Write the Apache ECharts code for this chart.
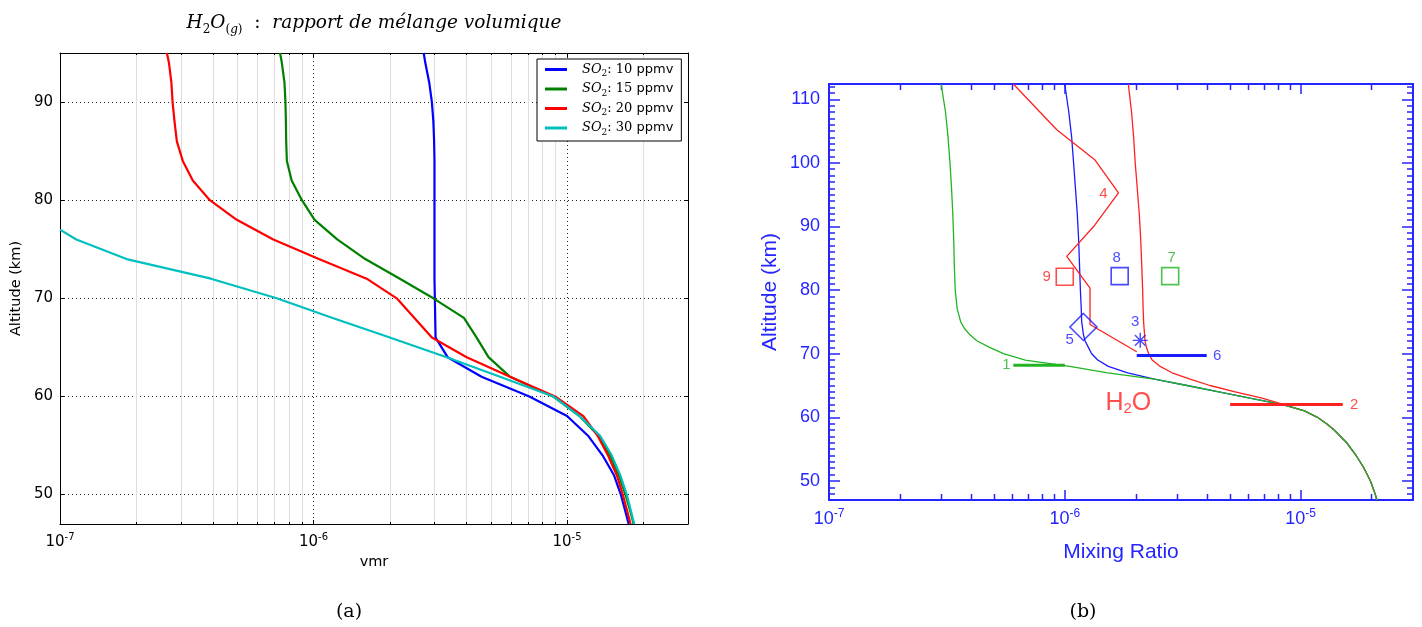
<!DOCTYPE html>
<html><head><meta charset="utf-8">
<script src="https://cdn.jsdelivr.net/npm/echarts@6/dist/echarts.min.js"></script>
<style>html,body{margin:0;padding:0;background:#fff}#c{width:1422px;height:627px}</style>
</head><body><div id="c"></div>
<script>
// ===== Panel (a) data =====
const altA = [95,94,92,90,88,86,84,82,80,78,76,74,72,70,68,66,64,62,60,58,56,54,52,50,48,47];
const vmrSO2_10 = [2.72e-6,2.76e-6,2.86e-6,2.93e-6,2.97e-6,2.99e-6,3.0e-6,3.0e-6,3.0e-6,3.0e-6,3.0e-6,3.0e-6,3.0e-6,3.01e-6,3.02e-6,3.03e-6,3.38e-6,4.6e-6,7.1e-6,1.0e-5,1.21e-5,1.38e-5,1.53e-5,1.63e-5,1.71e-5,1.75e-5];
const vmrSO2_15 = [7.38e-7,7.5e-7,7.68e-7,7.75e-7,7.78e-7,7.8e-7,7.85e-7,8.2e-7,9.0e-7,1.01e-6,1.24e-6,1.6e-6,2.19e-6,2.97e-6,3.92e-6,4.4e-6,4.9e-6,5.96e-6,8.8e-6,1.12e-5,1.33e-5,1.48e-5,1.6e-5,1.7e-5,1.79e-5,1.83e-5];
const vmrSO2_20 = [2.64e-7,2.69e-7,2.75e-7,2.78e-7,2.83e-7,2.89e-7,3.05e-7,3.34e-7,3.9e-7,4.98e-7,6.94e-7,1.05e-6,1.62e-6,2.13e-6,2.5e-6,2.93e-6,4.02e-6,5.96e-6,8.97e-6,1.16e-5,1.32e-5,1.45e-5,1.57e-5,1.66e-5,1.74e-5,1.78e-5];
const altA30 = [77,76,74,72,70,68,66,64,62,60,58,56,54,52,50,48,47];
const vmrSO2_30 = [1.0e-7,1.16e-7,1.83e-7,3.94e-7,7.16e-7,1.19e-6,2.0e-6,3.35e-6,5.44e-6,8.83e-6,1.12e-5,1.35e-5,1.5e-5,1.62e-5,1.72e-5,1.8e-5,1.84e-5];
const namesA = ['SO2: 10 ppmv','SO2: 15 ppmv','SO2: 20 ppmv','SO2: 30 ppmv'];
const minorTickVals = [2e-7,3e-7,4e-7,5e-7,6e-7,7e-7,8e-7,9e-7,2e-6,3e-6,4e-6,5e-6,6e-6,7e-6,8e-6,9e-6,2e-5];

// ===== Panel (b) data =====
const altB = [112.4,108,104,100,96,92,88,84,80,77,75,74,73,72,71,70,69,68,67,66,65,64,63,62,61,60,59,58,56,54,52,50,48,47];
const modelGreen = [2.99e-7,3.12e-7,3.2e-7,3.26e-7,3.31e-7,3.35e-7,3.38e-7,3.4e-7,3.43e-7,3.5e-7,3.62e-7,3.75e-7,3.95e-7,4.25e-7,4.8e-7,5.5e-7,6.8e-7,1.05e-6,1.52e-6,2.4e-6,3.3e-6,4.5e-6,6.1e-6,8.4e-6,1.04e-5,1.18e-5,1.29e-5,1.39e-5,1.57e-5,1.72e-5,1.86e-5,1.98e-5,2.07e-5,2.11e-5];
const modelBlue = [1.0e-6,1.04e-6,1.07e-6,1.09e-6,1.11e-6,1.13e-6,1.145e-6,1.155e-6,1.165e-6,1.175e-6,1.18e-6,1.19e-6,1.2e-6,1.22e-6,1.26e-6,1.3e-6,1.38e-6,1.53e-6,1.85e-6,2.4e-6,3.3e-6,4.5e-6,6.1e-6,8.4e-6,1.04e-5,1.18e-5,1.29e-5,1.39e-5,1.57e-5,1.72e-5,1.86e-5,1.98e-5,2.07e-5,2.11e-5];
const modelRed = [1.86e-6,1.92e-6,1.96e-6,1.99e-6,2.03e-6,2.07e-6,2.1e-6,2.12e-6,2.14e-6,2.15e-6,2.16e-6,2.17e-6,2.18e-6,2.19e-6,2.22e-6,2.27e-6,2.35e-6,2.54e-6,2.85e-6,3.4e-6,4.13e-6,5.28e-6,6.87e-6,8.5e-6,1.04e-5,1.18e-5,1.29e-5,1.39e-5,1.57e-5,1.72e-5,1.86e-5,1.98e-5,2.07e-5,2.11e-5];
const obs4Alt = [112.4,105.2,100.5,95.3,90.2,85.3,80.3,74.6,70.3];
const obs4Vmr = [6.05e-7,9.25e-7,1.34e-6,1.69e-6,1.34e-6,1.02e-6,1.28e-6,1.28e-6,2.02e-6];
const squareVmr = [1.0e-6,1.71e-6,2.8e-6];   // obs 9, 8, 7
const squareAlt = [82.1,82.2,82.2];
const diamondVmr = [1.2e-6];                 // obs 5
const diamondAlt = [74.2];
const starVmr = [2.09e-6];                   // obs 3
const starAlt = [72.1];
const barAlt = [68.2,62.0,69.7];             // obs 1, 2, 6
const barLo = [6.05e-7,5.03e-6,2.02e-6];
const barHi = [1.0e-6,1.51e-5,4.0e-6];
const annText = ['1','2','3','4','5','6','7','8','9'];
const annVmr = [5.65e-7,1.69e-5,1.99e-6,1.46e-6,1.05e-6,4.43e-6,2.84e-6,1.66e-6,8.39e-7];
const annAlt = [68.2,62.0,75.0,95.1,72.1,69.7,85.0,85.0,82.1];
const h2oPos = [1.86e-6, 62.3];

// ===== styles =====
const C = {blueA:'#0000ff', greenA:'#008000', redA:'#ff0000', cyanA:'#00bfbf',
  blueB:'#1a1aff', redB:'#ff2020', greenB:'#22b422', axisB:'#2525ff'};
const squareColors = [C.redB, C.blueB, C.greenB];
const barColors = [C.greenB, C.redB, C.blueB];
const annColors = [C.greenB, C.redB, C.blueB, C.redB, C.blueB, C.blueB, C.greenB, C.blueB, C.redB];
const seriesColorsA = [C.blueA, C.greenA, C.redA, C.cyanA];

const pairs = (xs, ys) => xs.map((x, i) => [x, ys[i]]);
const logFmt = v => { const e = Math.log10(v); const r = Math.round(e); if (Math.abs(e - r) > 1e-6) return ''; return '{b|10}{s|' + r + '}'; };
const tenFmt = v => (Math.abs(v % 10) < 1e-9 ? String(v) : '');

function minorRender(kind) {
  return function (params, api) {
    const cs = params.coordSys;
    const x = Math.round(api.coord([api.value(0), api.value(1)])[0]) + 0.5;
    const top = cs.y, bot = cs.y + cs.height;
    const ch = [];
    if (kind === 'a') {
      ch.push({type:'line', shape:{x1:x, y1:top, x2:x, y2:bot}, style:{stroke:'#dedede', lineWidth:1}});
      ch.push({type:'line', shape:{x1:x, y1:bot, x2:x, y2:bot - 2}, style:{stroke:'#000', lineWidth:1}});
      ch.push({type:'line', shape:{x1:x, y1:top, x2:x, y2:top + 2}, style:{stroke:'#000', lineWidth:1}});
    } else {
      ch.push({type:'line', shape:{x1:x, y1:bot, x2:x, y2:bot - 6}, style:{stroke:C.axisB, lineWidth:1.5}});
      ch.push({type:'line', shape:{x1:x, y1:top, x2:x, y2:top + 6}, style:{stroke:C.axisB, lineWidth:1.5}});
    }
    return {type:'group', children: ch};
  };
}

const richA = {
  b: {fontFamily:'DejaVu Sans', fontSize:15, color:'#000', lineHeight:20},
  s: {fontFamily:'DejaVu Sans', fontSize:10, color:'#000', lineHeight:10, verticalAlign:'top'}
};
const richB = {
  b: {fontFamily:'Liberation Sans', fontSize:18, color:C.axisB, lineHeight:22},
  s: {fontFamily:'Liberation Sans', fontSize:12, color:C.axisB, lineHeight:11, verticalAlign:'top'}
};

const yMinA = 47, yMaxA = 95, yMinB = 47, yMaxB = 112.4;
const xMin = 1e-7, xMax = 3e-5;

const blackLine = {lineStyle:{color:'#000', width:1}};
const option = {
  animation: false,
  backgroundColor: '#fff',
  grid: [
    {left:60, top:53, width:628, height:471, outerBoundsMode:'none', containLabel:false},
    {left:829, top:84, width:584, height:416, outerBoundsMode:'none', containLabel:false}
  ],
  legend: {
    data: namesA, orient:'vertical', left:537, top:59,
    backgroundColor:'#fff', borderColor:'#000', borderWidth:1, borderRadius:0,
    padding:[4,8,4,8], itemWidth:22, itemHeight:3, itemGap:4, icon:'rect',
    formatter: name => { const n = name.split(' ')[1]; return '{sp|}{i|SO}{sub|2}{r|: ' + n + ' }{p|ppmv}'; },
    textStyle: {rich: {
      sp: {width:10},
      i: {fontFamily:'DejaVu Serif', fontStyle:'italic', fontSize:13, color:'#000', lineHeight:18},
      sub: {fontFamily:'DejaVu Serif', fontSize:9, color:'#000', lineHeight:9, verticalAlign:'bottom'},
      r: {fontFamily:'DejaVu Serif', fontSize:13, color:'#000', lineHeight:18},
      p: {fontFamily:'DejaVu Sans', fontSize:13, color:'#000', lineHeight:18}
    }}
  },
  xAxis: [
    {type:'log', logBase:10, gridIndex:0, min:xMin, max:xMax, position:'bottom',
     name:'vmr', nameLocation:'middle', nameGap:31,
     nameTextStyle:{fontFamily:'DejaVu Sans', fontSize:14.5, color:'#000'},
     axisLine:{show:true, ...blackLine}, axisTick:{show:true, inside:true, length:4, ...blackLine},
     axisLabel:{formatter:logFmt, rich:richA, margin:8},
     splitLine:{show:true, lineStyle:{color:'#222', width:1, type:[1,3]}}, minorTick:{show:false}},
    {type:'log', logBase:10, gridIndex:0, min:xMin, max:xMax, position:'top',
     axisLine:{show:true, ...blackLine}, axisTick:{show:true, inside:true, length:4, ...blackLine},
     axisLabel:{show:false}, splitLine:{show:false}},
    {type:'log', logBase:10, gridIndex:1, min:xMin, max:xMax, position:'bottom',
     name:'Mixing Ratio', nameLocation:'middle', nameGap:42,
     nameTextStyle:{fontFamily:'Liberation Sans', fontSize:21, color:C.axisB},
     axisLine:{show:true, lineStyle:{color:C.axisB, width:2}},
     axisTick:{show:true, inside:true, length:10, lineStyle:{color:C.axisB, width:1.5}},
     axisLabel:{formatter:logFmt, rich:richB, margin:8}, splitLine:{show:false}},
    {type:'log', logBase:10, gridIndex:1, min:xMin, max:xMax, position:'top',
     axisLine:{show:true, lineStyle:{color:C.axisB, width:2}},
     axisTick:{show:true, inside:true, length:10, lineStyle:{color:C.axisB, width:1.5}},
     axisLabel:{show:false}, splitLine:{show:false}}
  ],
  yAxis: [
    {type:'value', gridIndex:0, min:yMinA, max:yMaxA, position:'left',
     name:'Altitude (km)', nameLocation:'middle', nameGap:36,
     nameTextStyle:{fontFamily:'DejaVu Sans', fontSize:14.5, color:'#000'},
     axisLine:{show:true, ...blackLine}, axisTick:{show:true, inside:true, length:4, ...blackLine},
     axisLabel:{formatter:tenFmt, fontFamily:'DejaVu Sans', fontSize:15, color:'#000', margin:7},
     splitLine:{show:true, lineStyle:{color:'#222', width:1, type:[1,3]}}},
    {type:'value', gridIndex:0, min:yMinA, max:yMaxA, position:'right',
     axisLine:{show:true, ...blackLine}, axisTick:{show:true, inside:true, length:4, ...blackLine},
     axisLabel:{show:false}, splitLine:{show:false}},
    {type:'value', gridIndex:1, min:yMinB, max:yMaxB, position:'left', splitNumber:6,
     name:'Altitude (km)', nameLocation:'middle', nameGap:48,
     nameTextStyle:{fontFamily:'Liberation Sans', fontSize:21, color:C.axisB},
     axisLine:{show:true, lineStyle:{color:C.axisB, width:2}},
     axisTick:{show:true, inside:true, length:11, lineStyle:{color:C.axisB, width:1.5}},
     minorTick:{show:true, splitNumber:10, length:6, lineStyle:{color:C.axisB, width:1.5}},
     axisLabel:{formatter:tenFmt, fontFamily:'Liberation Sans', fontSize:18, color:C.axisB, margin:9},
     splitLine:{show:false}},
    {type:'value', gridIndex:1, min:yMinB, max:yMaxB, position:'right', splitNumber:6,
     axisLine:{show:true, lineStyle:{color:C.axisB, width:2}},
     axisTick:{show:true, inside:true, length:11, lineStyle:{color:C.axisB, width:1.5}},
     minorTick:{show:true, splitNumber:10, length:6, lineStyle:{color:C.axisB, width:1.5}},
     axisLabel:{show:false}, splitLine:{show:false}}
  ],
  graphic: [
    {type:'text', x:374, y:23, silent:true, style:{
      text:'{i|H}{sub|2}{i|O}{sub|(}{subi|g}{sub|)}{r|  :  }{i|rapport de mélange volumique}',
      align:'center', verticalAlign:'middle',
      rich:{
        i:{fontFamily:'DejaVu Serif', fontStyle:'italic', fontSize:18.5, fill:'#000', lineHeight:25},
        r:{fontFamily:'DejaVu Serif', fontSize:18.5, fill:'#000', lineHeight:25},
        sub:{fontFamily:'DejaVu Serif', fontSize:12, fill:'#000', lineHeight:10, verticalAlign:'bottom'},
        subi:{fontFamily:'DejaVu Serif', fontStyle:'italic', fontSize:12, fill:'#000', lineHeight:10, verticalAlign:'bottom'}
      }}},
    {type:'text', x:349, y:612, silent:true, style:{text:'(a)', font:'19px "DejaVu Serif"', fill:'#000', align:'center', verticalAlign:'middle'}},
    {type:'text', x:1083, y:612, silent:true, style:{text:'(b)', font:'19px "DejaVu Serif"', fill:'#000', align:'center', verticalAlign:'middle'}}
  ],
  series: [
    // ---- panel (a) ----
    {type:'custom', xAxisIndex:0, yAxisIndex:0, silent:true, z:1, renderItem:minorRender('a'),
     data: minorTickVals.map(v => [v, 60])},
    ...[[vmrSO2_10, altA],[vmrSO2_15, altA],[vmrSO2_20, altA],[vmrSO2_30, altA30]].map((d, i) => ({
      type:'line', name:namesA[i], xAxisIndex:0, yAxisIndex:0, data:pairs(d[0], d[1]),
      symbol:'none', showSymbol:false, z:3, clip:true,
      lineStyle:{color:seriesColorsA[i], width:2.2}, itemStyle:{color:seriesColorsA[i]}
    })),
    // ---- panel (b) ----
    {type:'custom', xAxisIndex:2, yAxisIndex:2, silent:true, z:1, renderItem:minorRender('b'),
     data: minorTickVals.map(v => [v, 60])},
    {type:'line', xAxisIndex:2, yAxisIndex:2, data:pairs(modelBlue, altB), symbol:'none', z:3, clip:true,
     lineStyle:{color:C.blueB, width:1.3}},
    {type:'line', xAxisIndex:2, yAxisIndex:2, data:pairs(modelRed, altB), symbol:'none', z:3, clip:true,
     lineStyle:{color:C.redB, width:1.3}},
    {type:'line', xAxisIndex:2, yAxisIndex:2, data:pairs(modelGreen, altB), symbol:'none', z:3, clip:true,
     lineStyle:{color:C.greenB, width:1.3}},
    {type:'line', xAxisIndex:2, yAxisIndex:2, data:pairs(obs4Vmr, obs4Alt), symbol:'none', z:3, clip:true,
     lineStyle:{color:C.redB, width:1.3}},
    ...barAlt.map((a, i) => ({
      type:'line', xAxisIndex:2, yAxisIndex:2, data:[[barLo[i], a],[barHi[i], a]], symbol:'none', z:4,
      lineStyle:{color:barColors[i], width:3}
    })),
    {type:'scatter', xAxisIndex:2, yAxisIndex:2, symbol:'rect', symbolSize:17, z:5,
     data: squareVmr.map((v, i) => ({value:[v, squareAlt[i]], itemStyle:{color:'rgba(0,0,0,0)', borderColor:squareColors[i], borderWidth:1.6}}))},
    {type:'scatter', xAxisIndex:2, yAxisIndex:2, symbol:'diamond', symbolSize:[27,27], z:5,
     itemStyle:{color:'rgba(0,0,0,0)', borderColor:C.blueB, borderWidth:1.6},
     data: pairs(diamondVmr, diamondAlt)},
    {type:'scatter', xAxisIndex:2, yAxisIndex:2, symbol:'path://M0,-10L0,10M-10,0L10,0M-7.07,-7.07L7.07,7.07M-7.07,7.07L7.07,-7.07',
     symbolSize:15, z:5, itemStyle:{color:'rgba(0,0,0,0)', borderColor:C.blueB, borderWidth:1.4},
     data: pairs(starVmr, starAlt)},
    {type:'scatter', xAxisIndex:2, yAxisIndex:2, symbol:'circle', symbolSize:1, z:6, silent:true,
     itemStyle:{color:'rgba(0,0,0,0)'},
     label:{show:true, position:'inside', fontFamily:'Liberation Sans', fontSize:15,
       formatter: p => annText[p.dataIndex]},
     data: annVmr.map((v, i) => ({value:[v, annAlt[i]], label:{color:annColors[i]}}))},
    {type:'scatter', xAxisIndex:2, yAxisIndex:2, symbol:'circle', symbolSize:1, z:6, silent:true,
     itemStyle:{color:'rgba(0,0,0,0)'},
     label:{show:true, position:'inside', formatter:'{a|H}{b|2}{a|O}',
       rich:{a:{fontFamily:'Liberation Sans', fontSize:25, color:C.redB, lineHeight:28},
             b:{fontFamily:'Liberation Sans', fontSize:15, color:C.redB, lineHeight:12, verticalAlign:'bottom'}}},
     data:[h2oPos]}
  ]
};
const chart = echarts.init(document.getElementById('c'), null, {renderer:'canvas'});
chart.setOption(option);
</script></body></html>
